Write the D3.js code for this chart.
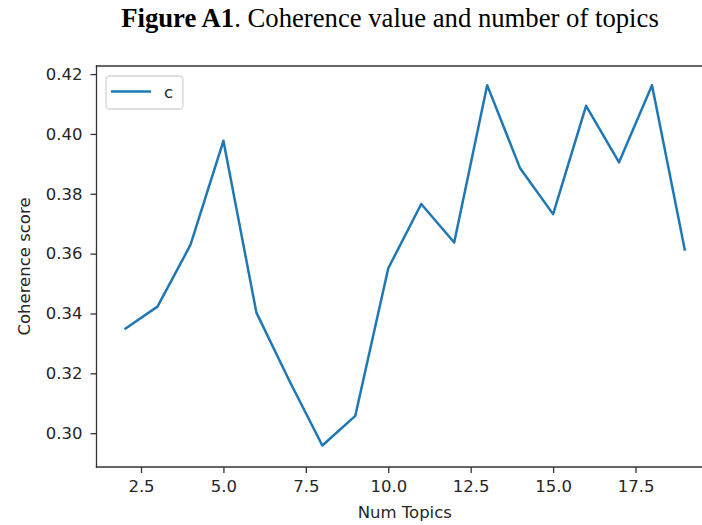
<!DOCTYPE html>
<html>
<head>
<meta charset="utf-8">
<script src="https://cdn.jsdelivr.net/npm/d3@7"></script>
<style>
  body { margin: 0; background: #fff; overflow: hidden; }
  svg { display: block; }
</style>
</head>
<body>
<svg id="chart"></svg>
<script>
// Coherence score per number of topics
let numTopics = [2, 3, 4, 5, 6, 7, 8, 9, 10, 11, 12, 13, 14, 15, 16, 17, 18, 19];
let coherence = [0.3347, 0.3423, 0.3629, 0.3977, 0.3403, 0.3175, 0.2959, 0.3058, 0.3551,
                 0.3766, 0.3637, 0.4163, 0.3885, 0.3732, 0.4094, 0.3905, 0.4163, 0.3610];
let xTicks = [2.5, 5.0, 7.5, 10.0, 12.5, 15.0, 17.5];
let yTicks = [0.30, 0.32, 0.34, 0.36, 0.38, 0.40, 0.42];
let seriesName = "c";

let width = 702;
let height = 525;

// axes box (right spine falls just outside the picture)
let plotLeft = 96.5, plotRight = 713, plotTop = 66, plotBottom = 467;

let svg = d3.select("#chart")
    .attr("width", width)
    .attr("height", height);

let xScale = d3.scaleLinear()
    .domain([1.15, 19.85])
    .range([plotLeft, plotRight]);

let yScale = d3.scaleLinear()
    .domain([0.2887, 0.4227])
    .range([plotBottom, plotTop]);

// title
let title = svg.append("text")
    .attr("x", 390)
    .attr("y", 27.3)
    .attr("text-anchor", "middle")
    .style("font-family", "'Liberation Serif', 'Times New Roman', serif")
    .style("font-size", "26.7px")
    .style("fill", "#000");
title.append("tspan").style("font-weight", "bold").text("Figure A1");
title.append("tspan").text(". Coherence value and number of topics");

// line
let line = d3.line()
    .x((d, i) => xScale(numTopics[i]))
    .y(d => yScale(d));

svg.append("path")
    .datum(coherence)
    .attr("d", line)
    .attr("fill", "none")
    .attr("stroke", "#1f77b4")
    .attr("stroke-width", 2.5)
    .attr("stroke-linejoin", "round")
    .attr("stroke-linecap", "butt");

// axes
let xAxis = d3.axisBottom(xScale)
    .tickValues(xTicks)
    .tickFormat(d3.format(".1f"))
    .tickSize(6)
    .tickSizeOuter(0)
    .tickPadding(7);

let yAxis = d3.axisLeft(yScale)
    .tickValues(yTicks)
    .tickFormat(d3.format(".2f"))
    .tickSize(6)
    .tickSizeOuter(0)
    .tickPadding(8);

let gx = svg.append("g")
    .attr("transform", "translate(0," + plotBottom + ")")
    .call(xAxis);

let gy = svg.append("g")
    .attr("transform", "translate(" + plotLeft + ",0)")
    .call(yAxis);

[gx, gy].forEach(g => {
    g.select(".domain").remove();
    g.selectAll(".tick line").attr("stroke", "#333").attr("stroke-width", 1.3);
    g.selectAll(".tick text")
        .style("font-family", "'DejaVu Sans', sans-serif")
        .style("font-size", "16.5px")
        .style("fill", "#262626");
});

// spines: left, bottom, top (the right one is cut off in the figure)
let spine = (x1, y1, x2, y2) => svg.append("line")
    .attr("x1", x1).attr("y1", y1)
    .attr("x2", x2).attr("y2", y2)
    .attr("stroke", "#333")
    .attr("stroke-width", 1.3)
    .attr("stroke-linecap", "square");
spine(plotLeft, plotTop, plotLeft, plotBottom);
spine(plotLeft, plotBottom, width, plotBottom);
spine(plotLeft, plotTop, width, plotTop);

// axis labels
svg.append("text")
    .attr("x", (plotLeft + plotRight) / 2)
    .attr("y", 518)
    .attr("text-anchor", "middle")
    .style("font-family", "'DejaVu Sans', sans-serif")
    .style("font-size", "16.5px")
    .style("fill", "#262626")
    .text("Num Topics");

svg.append("text")
    .attr("transform", "translate(30," + (plotTop + plotBottom) / 2 + ") rotate(-90)")
    .attr("text-anchor", "middle")
    .style("font-family", "'DejaVu Sans', sans-serif")
    .style("font-size", "16.5px")
    .style("fill", "#262626")
    .text("Coherence score");

// legend
let legend = svg.append("g");
legend.append("rect")
    .attr("x", 106)
    .attr("y", 76)
    .attr("width", 77)
    .attr("height", 33)
    .attr("rx", 3.5)
    .attr("fill", "#fff")
    .attr("fill-opacity", 0.8)
    .attr("stroke", "#d6d6d6")
    .attr("stroke-width", 1.3);
legend.append("line")
    .attr("x1", 111)
    .attr("x2", 151)
    .attr("y1", 91.5)
    .attr("y2", 91.5)
    .attr("stroke", "#1f77b4")
    .attr("stroke-width", 2.5);
legend.append("text")
    .attr("x", 164)
    .attr("y", 97.5)
    .style("font-family", "'DejaVu Sans', sans-serif")
    .style("font-size", "16.5px")
    .style("fill", "#262626")
    .text(seriesName);
</script>
</body>
</html>
